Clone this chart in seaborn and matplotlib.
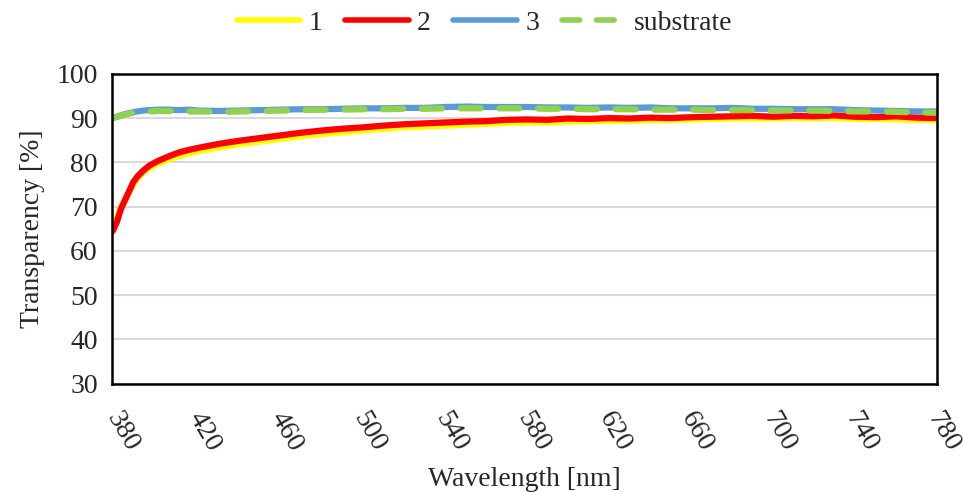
import numpy as np
import pandas as pd
import matplotlib
matplotlib.use("Agg")
import matplotlib.pyplot as plt
import matplotlib.transforms as mtransforms
import seaborn as sns
from matplotlib.lines import Line2D

wavelength = [378, 380, 382, 384, 386, 388, 390, 393, 396, 400, 405, 410, 415, 420,
              430, 440, 450, 460, 470, 480, 490, 500, 510, 520, 530, 540, 550, 560,
              570, 580, 590, 600, 610, 620, 630, 640, 650, 660, 670, 680, 690, 700,
              710, 720, 730, 740, 750, 760, 770, 780]

series_1 = [66.0, 67.5, 69.8, 71.5, 73.2, 75.0, 76.3, 77.7, 78.7, 79.7, 80.6, 81.4, 82.0, 82.5,
            83.4, 84.1, 84.7, 85.3, 85.9, 86.4, 86.8, 87.2, 87.6, 87.9, 88.1, 88.3, 88.5, 88.7,
            88.9, 89.0, 89.0, 89.2, 89.3, 89.4, 89.4, 89.5, 89.6, 89.7, 89.8, 89.9, 89.9, 89.9,
            90.0, 89.9, 90.0, 89.8, 89.8, 89.7, 89.6, 89.5]

series_2 = [64.5, 66.5, 69.5, 71.5, 73.5, 75.5, 76.8, 78.2, 79.3, 80.3, 81.3, 82.2, 82.8, 83.3,
            84.2, 84.9, 85.5, 86.1, 86.7, 87.2, 87.6, 87.9, 88.3, 88.6, 88.8, 89.0, 89.2, 89.3,
            89.6, 89.7, 89.6, 89.9, 89.8, 90.0, 89.9, 90.1, 90.0, 90.2, 90.3, 90.4, 90.5, 90.3,
            90.5, 90.4, 90.6, 90.3, 90.2, 90.4, 90.1, 90.0]

series_3 = [90.0, 90.3, 90.6, 90.9, 91.1, 91.3, 91.5, 91.7, 91.8, 91.9, 91.9, 91.8, 91.9, 91.7,
            91.6, 91.7, 91.8, 91.9, 92.0, 92.0, 92.1, 92.2, 92.2, 92.3, 92.3, 92.5, 92.6, 92.5,
            92.5, 92.5, 92.4, 92.4, 92.3, 92.4, 92.3, 92.4, 92.2, 92.2, 92.2, 92.3, 92.1, 92.1,
            92.0, 92.0, 92.0, 91.8, 91.7, 91.6, 91.5, 91.5]

substrate = [90.0, 90.3, 90.6, 90.8, 91.0, 91.2, 91.3, 91.4, 91.5, 91.6, 91.6, 91.6, 91.5, 91.5,
             91.4, 91.5, 91.6, 91.7, 91.8, 91.9, 91.9, 92.0, 92.0, 92.1, 92.1, 92.2, 92.2, 92.2,
             92.2, 92.2, 92.1, 92.1, 92.0, 92.0, 92.0, 91.9, 91.9, 91.9, 91.8, 91.8, 91.8, 91.7,
             91.7, 91.7, 91.6, 91.5, 91.5, 91.4, 91.3, 91.2]

series_names = ["1", "2", "3", "substrate"]
colors = ["#FFFF00", "#FF0000", "#5B9BD5", "#92D050"]
x_ticks = [380, 420, 460, 500, 540, 580, 620, 660, 700, 740, 780]
y_ticks = [30, 40, 50, 60, 70, 80, 90, 100]

sns.set_theme(style="white")
plt.rcParams['font.family'] = ['Liberation Serif', 'DejaVu Serif']

FS = 20
TXT = "#262626"

fig = plt.figure(figsize=(9.63, 4.92), dpi=100)
ax = fig.add_axes([0.116, 0.22, 0.857, 0.63])

data = [series_1, series_2, series_3, substrate]
for name, vals, col in zip(series_names, data, colors):
    df = pd.DataFrame({"Wavelength": wavelength, "T": vals})
    sns.lineplot(x="Wavelength", y="T", data=df, ax=ax, color=col, linewidth=4.5,
                 label=name, legend=False)
    l = ax.lines[-1]
    if name == "substrate":
        l.set_dashes([3.2, 3.0])
        l.set_dash_capstyle("round")
    else:
        l.set_solid_capstyle("round")

ax.set_xlim(377.5, 780)
ax.set_ylim(30, 100)
ax.set_xticks(x_ticks)
ax.set_yticks(y_ticks)
ax.set_xticklabels([str(t) for t in x_ticks], rotation=-60, ha="center", va="top",
                   fontsize=FS, color=TXT)
ax.set_yticklabels([str(t) for t in y_ticks], fontsize=FS, color=TXT)
ax.tick_params(axis="y", length=0, pad=10)
ax.tick_params(axis="x", length=0, pad=17)
offset = mtransforms.ScaledTranslation(6 / 100, 0, fig.dpi_scale_trans)
for lab in ax.get_xticklabels():
    lab.set_transform(lab.get_transform() + offset)
ax.yaxis.grid(True, color="#D9D9D9", linewidth=1.5)
ax.set_axisbelow(True)
for s in ax.spines.values():
    s.set_visible(True)
    s.set_color("black")
    s.set_linewidth(1.8)

ax.set_xlabel("Wavelength [nm]", fontsize=FS, color=TXT, labelpad=8)
ax.set_ylabel("Transparency [%]", fontsize=FS, color=TXT, labelpad=8)

handles = []
for name, col in zip(series_names, colors):
    if name == "substrate":
        h = Line2D([], [], color=col, linewidth=4, dashes=[3.2, 3.0], dash_capstyle="round")
    else:
        h = Line2D([], [], color=col, linewidth=4, solid_capstyle="round")
    handles.append(h)
fig.legend(handles, series_names, loc="upper center", bbox_to_anchor=(0.503, 1.03), ncol=4,
           frameon=False, fontsize=FS, handlelength=2.3, handletextpad=0.3,
           columnspacing=0.8)

fig.savefig("out.png", dpi=100)
